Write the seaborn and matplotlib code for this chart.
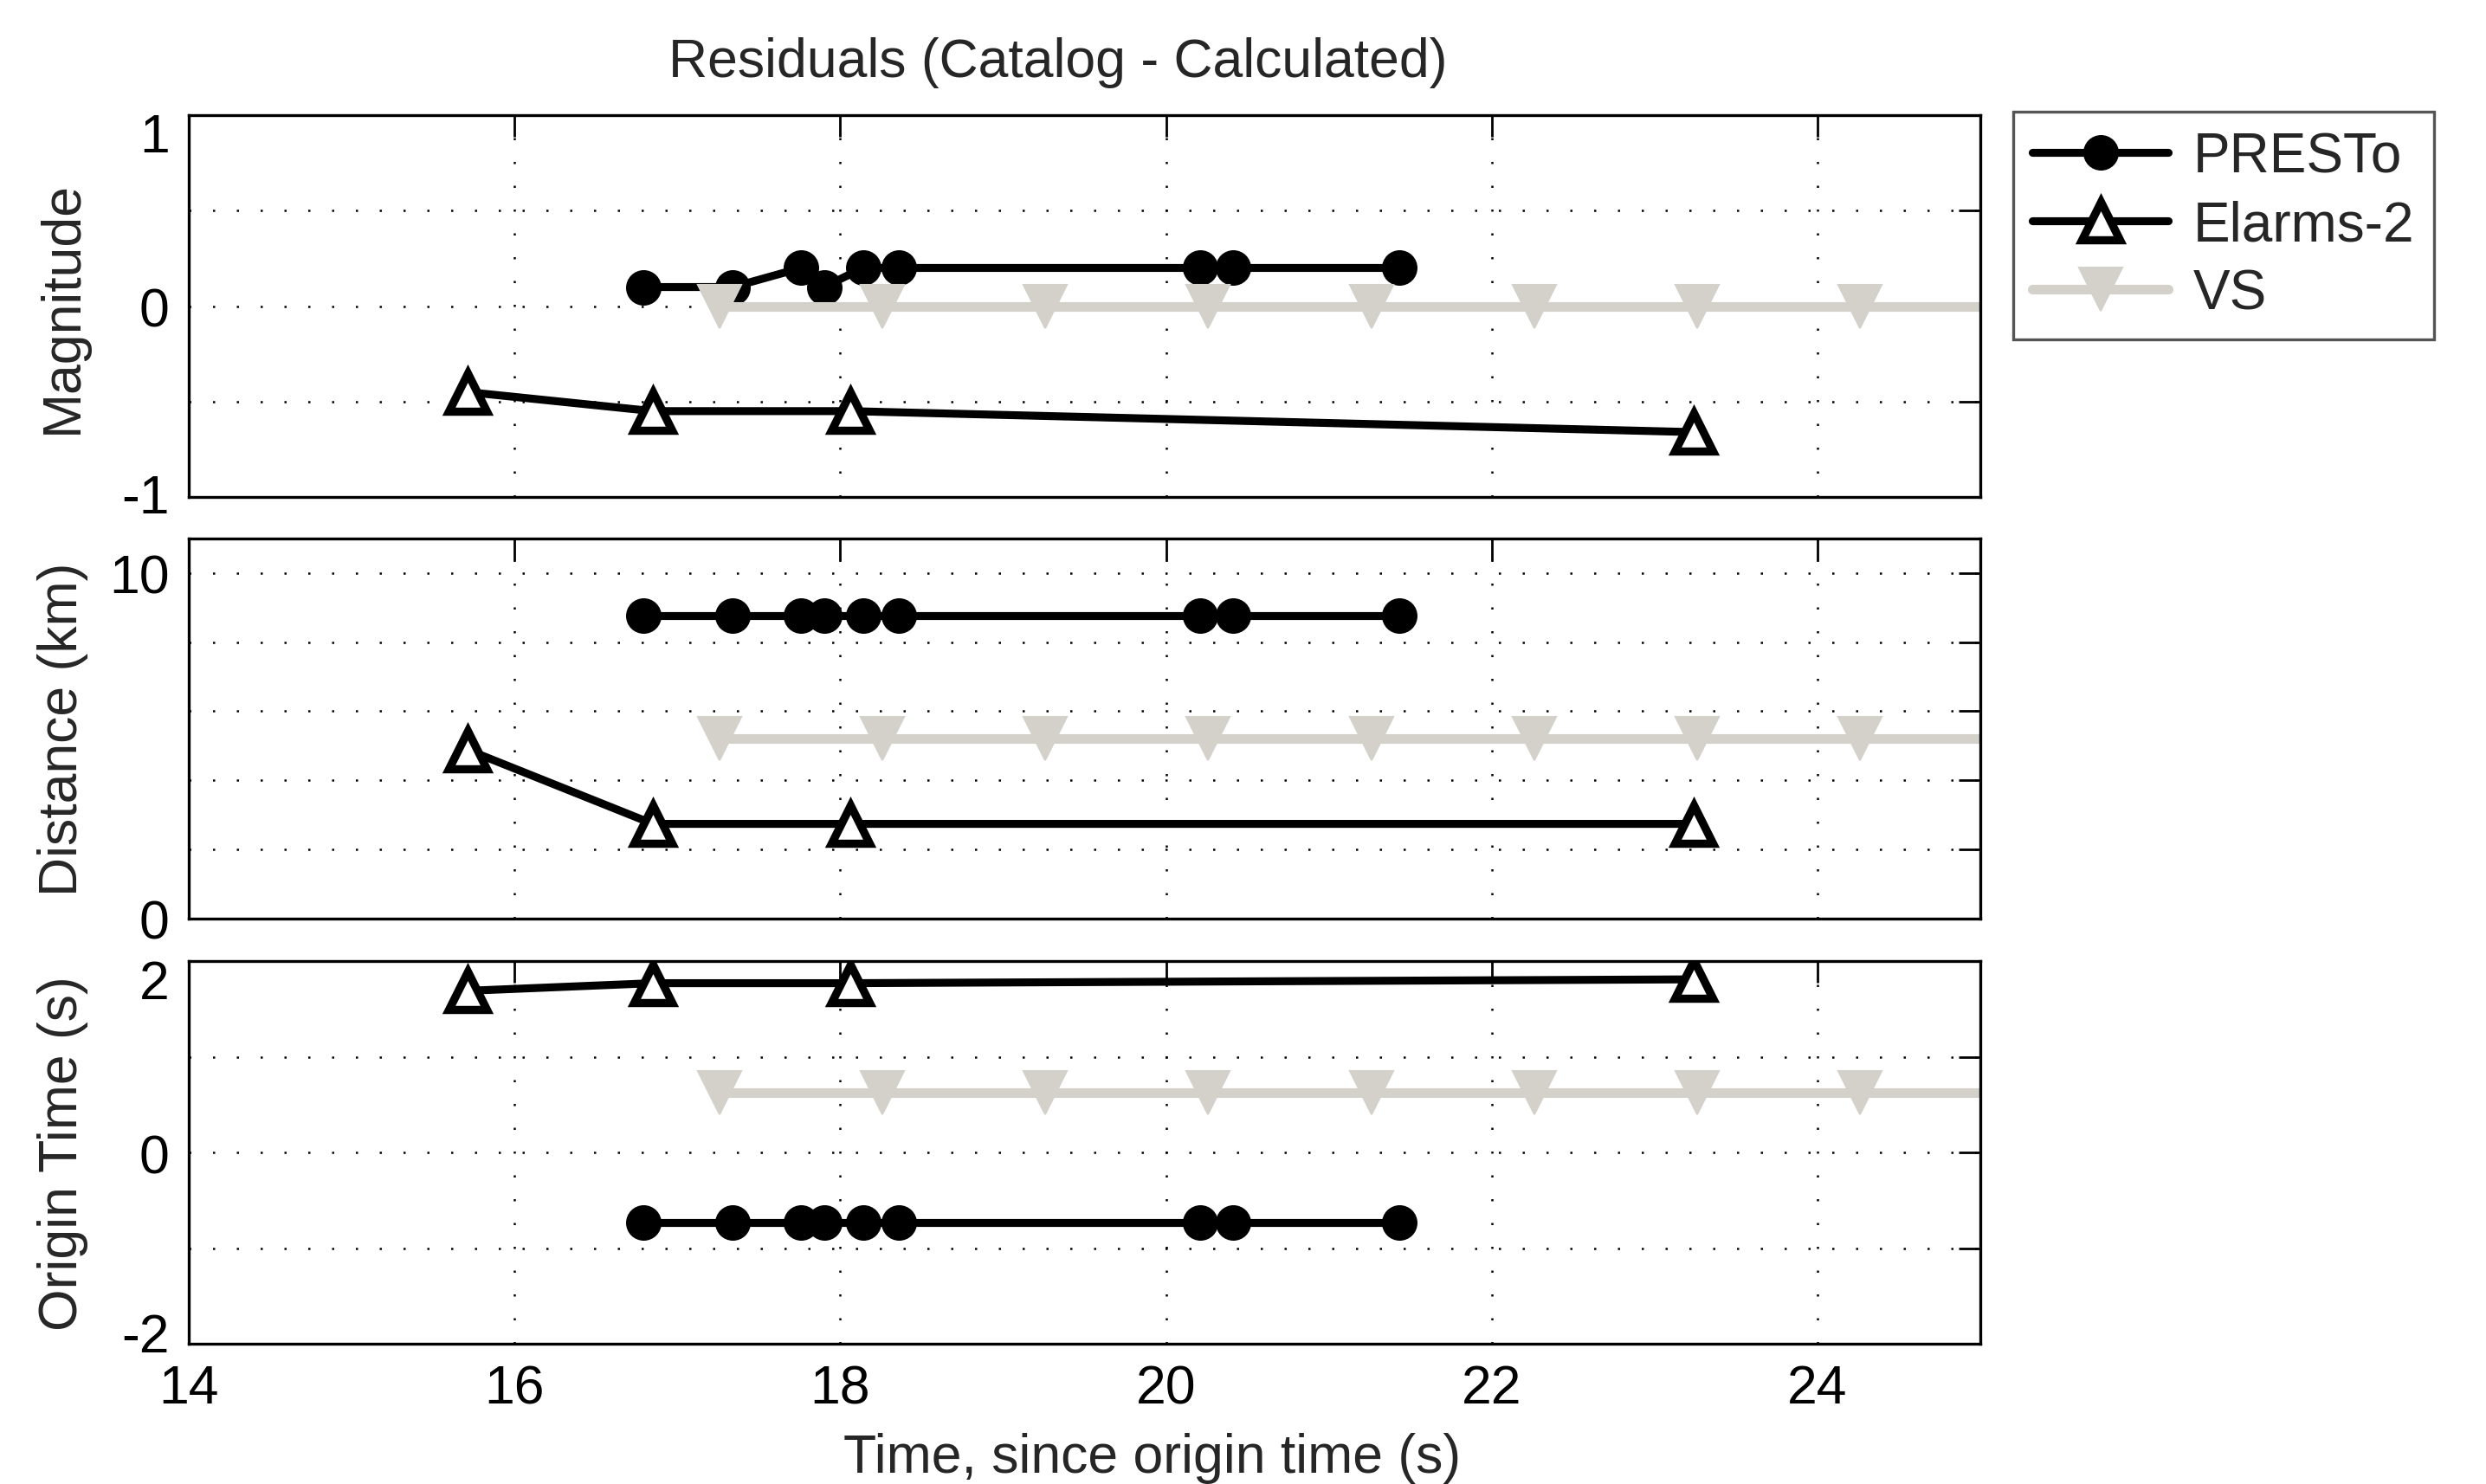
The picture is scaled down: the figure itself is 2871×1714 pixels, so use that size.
import numpy as np
import pandas as pd
import matplotlib
matplotlib.use("Agg")
import matplotlib.pyplot as plt
import matplotlib.transforms as mtransforms
import seaborn as sns

# -----------------------------
# Data
# -----------------------------
presto_t = [16.79, 17.34, 17.76, 17.90, 18.14, 18.36, 20.21, 20.41, 21.43]
presto_mag = [0.1, 0.1, 0.2, 0.1, 0.2, 0.2, 0.2, 0.2, 0.2]
presto_dist = [8.77, 8.77, 8.77, 8.77, 8.77, 8.77, 8.77, 8.77, 8.77]
presto_ot = [-0.73, -0.73, -0.73, -0.73, -0.73, -0.73, -0.73, -0.73, -0.73]

elarms_t = [15.71, 16.85, 18.06, 23.24]
elarms_mag = [-0.45, -0.55, -0.55, -0.66]
elarms_dist = [4.89, 2.74, 2.74, 2.74]
elarms_ot = [1.69, 1.77, 1.77, 1.81]

vs_t = [17.26, 18.26, 19.26, 20.26, 21.26, 22.26, 23.26, 24.26, 25.26]
vs_mag = [0.0, 0.0, 0.0, 0.0, 0.0, 0.0, 0.0, 0.0, 0.0]
vs_dist = [5.2, 5.2, 5.2, 5.2, 5.2, 5.2, 5.2, 5.2, 5.2]
vs_ot = [0.63, 0.63, 0.63, 0.63, 0.63, 0.63, 0.63, 0.63, 0.63]

panel_labels = ["Magnitude", "Distance (km)", "Origin Time (s)"]
panel_ylims = [(-1, 1), (0, 11), (-2, 2)]
panel_yticks = [[-1, -0.5, 0, 0.5, 1], [0, 2, 4, 6, 8, 10], [-2, -1, 0, 1, 2]]
panel_yticklabels = [["-1", "", "0", "", "1"], ["0", "", "", "", "", "10"],
                     ["-2", "", "0", "", "2"]]
xticks = [14, 16, 18, 20, 22, 24]

VS_GREY = "#d3d1ca"
FS = 22.5

sns.set_style("white")
plt.rcParams["font.family"] = ["Liberation Sans", "DejaVu Sans"]

df_p = pd.DataFrame({"t": presto_t, "Magnitude": presto_mag,
                     "Distance": presto_dist, "OT": presto_ot})
df_e = pd.DataFrame({"t": elarms_t, "Magnitude": elarms_mag,
                     "Distance": elarms_dist, "OT": elarms_ot})
df_v = pd.DataFrame({"t": vs_t, "Magnitude": vs_mag,
                     "Distance": vs_dist, "OT": vs_ot})
cols = ["Magnitude", "Distance", "OT"]

fig = plt.figure(figsize=(14.355, 8.575), dpi=200)
left, width = 0.0759, 0.7207
rects = [(left, 0.6647, width, 0.2571),
         (left, 0.3808, width, 0.2560),
         (left, 0.0944, width, 0.2577)]

# matlab nudges the end tick labels inward a bit (points, +up)
end_label_shift = [{0: 1.8, 4: -6.8}, {}, {0: 5.0, 4: -7.2}]

axes = []
for i, rect in enumerate(rects):
    ax = fig.add_axes(rect)
    axes.append(ax)
    col = cols[i]
    sns.lineplot(data=df_p, x="t", y=col, ax=ax, sort=False, estimator=None,
                 color="black", lw=3.3, marker="o", markersize=14,
                 markeredgecolor="black", label="PRESTo", legend=False)
    sns.lineplot(data=df_e, x="t", y=col, ax=ax, sort=False, estimator=None,
                 color="black", lw=3.3, marker="^", markersize=15.5,
                 markerfacecolor="white", markeredgecolor="black",
                 markeredgewidth=3.4, label="Elarms-2", legend=False)
    sns.lineplot(data=df_v, x="t", y=col, ax=ax, sort=False, estimator=None,
                 color=VS_GREY, lw=4, marker="v", markersize=18,
                 markeredgecolor=VS_GREY, label="VS", legend=False)

    ax.set_xlim(14, 25)
    ax.set_ylim(*panel_ylims[i])
    ax.set_xticks(xticks)
    ax.set_yticks(panel_yticks[i])
    ax.set_yticklabels(panel_yticklabels[i])
    if i < 2:
        ax.set_xticklabels([])
    ax.set_xlabel("")
    ax.set_ylabel(panel_labels[i], fontsize=FS)
    ax.yaxis.set_label_coords(-0.056, 0.5)
    ax.grid(True, color="black", linestyle=(0, (1, 10)), linewidth=0.9)
    ax.tick_params(direction="in", length=9, width=1.0, top=True, right=True,
                   labelsize=FS, pad=8, colors="black")
    for s in ax.spines.values():
        s.set_color("black")
        s.set_linewidth(1.2)
    ax.set_facecolor("white")

    for k, dy in end_label_shift[i].items():
        lab = ax.get_yticklabels()[k]
        lab.set_transform(lab.get_transform() + mtransforms.ScaledTranslation(
            0, dy / 72, fig.dpi_scale_trans))

fig.text(0.4254, 0.958, "Residuals (Catalog - Calculated)", fontsize=FS,
         ha="center", va="center")
fig.text(0.4636, 0.018, "Time, since origin time (s)", fontsize=FS,
         ha="center", va="center")

handles, labels = axes[0].get_legend_handles_labels()
leg = fig.legend(handles, labels, loc="upper left",
                 bbox_to_anchor=(0.8098, 0.9244), borderaxespad=0,
                 fontsize=23, frameon=True, fancybox=False, framealpha=1,
                 edgecolor="#555555", handlelength=2.45, labelspacing=0.3,
                 borderpad=0.35, handletextpad=0.45)
leg.get_frame().set_linewidth(1.2)

fig.savefig("out.png", dpi=200, facecolor="white")
